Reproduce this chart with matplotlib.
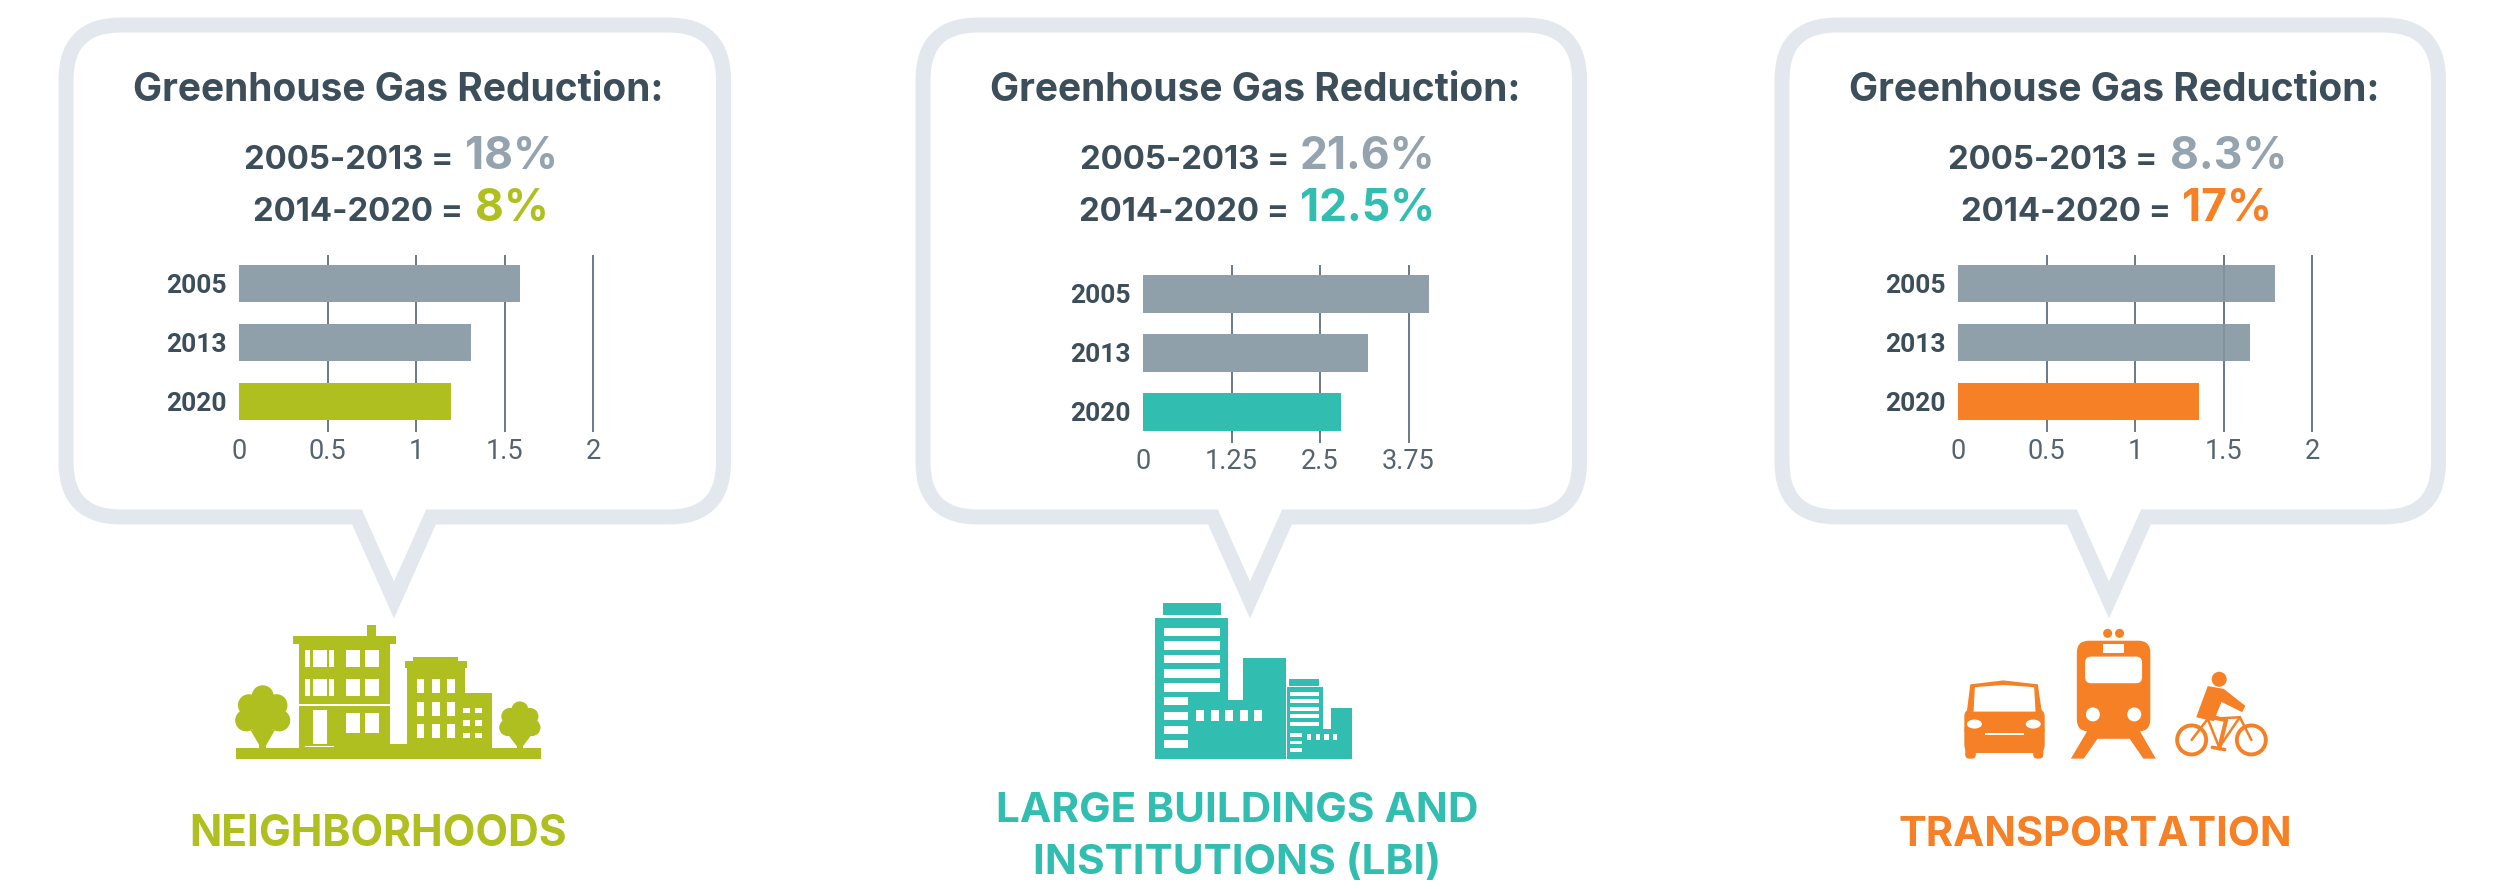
# -*- coding: utf-8 -*-
"""
    Three speech bubbles with greenhouse gas bar charts and a sector icon below each.
"""

import matplotlib
matplotlib.use("Agg")
import matplotlib.pyplot as plt
from matplotlib.path import Path
from matplotlib.patches import PathPatch, Polygon, Rectangle, Ellipse, FancyBboxPatch

#========== DATA ==========#

YEARS = ["2005", "2013", "2020"]

NEIGHBORHOODS_VALUES = [1.59, 1.31, 1.2]
LBI_VALUES = [4.04, 3.18, 2.8]
TRANSPORTATION_VALUES = [1.79, 1.65, 1.36]

SMALL_TICKS = [0, 0.5, 1, 1.5, 2]
SMALL_TICK_LABELS = ["0", "0.5", "1", "1.5", "2"]
LBI_TICKS = [0, 1.25, 2.5, 3.75]
LBI_TICK_LABELS = ["0", "1.25", "2.5", "3.75"]

TITLE = "Greenhouse Gas Reduction:"
PERIOD_1 = "2005-2013 ="
PERIOD_2 = "2014-2020 ="
NEIGHBORHOODS_PCT = ["18%", "8%"]
LBI_PCT = ["21.6%", "12.5%"]
TRANSPORTATION_PCT = ["8.3%", "17%"]

#========== STYLE ==========#

WIDTH, HEIGHT = 2502, 889
GREEN = "#afbf1f"
TEAL = "#31bdb0"
ORANGE = "#f58025"
GREY_BAR = "#90a0aa"
GREY_VALUE = "#94a3ad"
BUBBLE = "#e2e8ed"
DARK = "#3c4e5a"
GRID = "#6a7a85"
HEAD_FONT = ["Inter", "DejaVu Sans"]
NARROW_FONT = ["Roboto", "DejaVu Sans"]

fig = plt.figure(figsize=(WIDTH / 100, HEIGHT / 100), dpi=100, facecolor="white")
canvas = fig.add_axes([0, 0, 1, 1])
canvas.set_xlim(0, WIDTH)
canvas.set_ylim(HEIGHT, 0)
canvas.axis("off")


#======== FUNCTIONS =========#


def draw_bubble(left, right, tip):
    """
        Bubble outline with rounded corners and a tail pointing at the icon
    """
    top, bottom, rad = 25, 517, 55
    verts = [
        (tip - 37, bottom),
        (left + rad, bottom), (left, bottom), (left, bottom - rad),
        (left, top + rad), (left, top), (left + rad, top),
        (right - rad, top), (right, top), (right, top + rad),
        (right, bottom - rad), (right, bottom), (right - rad, bottom),
        (tip + 37, bottom), (tip, 600), (tip - 37, bottom),
    ]
    codes = [Path.MOVETO, Path.LINETO, Path.CURVE3, Path.CURVE3, Path.LINETO,
             Path.CURVE3, Path.CURVE3, Path.LINETO, Path.CURVE3, Path.CURVE3,
             Path.LINETO, Path.CURVE3, Path.CURVE3, Path.LINETO, Path.LINETO,
             Path.CLOSEPOLY]
    canvas.add_patch(PathPatch(Path(verts, codes), facecolor="white", edgecolor=BUBBLE,
                               linewidth=10.8, joinstyle="miter"))


def draw_header(center, label_1, value_1, label_2, value_2, pct, color):
    """
        Title and the two percentage lines. label_x: right end of "=", value_x: start of value
    """
    canvas.text(center, 101, TITLE, family=HEAD_FONT, weight="bold", fontsize=28,
                color=DARK, ha="center", va="baseline")
    canvas.text(label_1, 169, PERIOD_1, family=HEAD_FONT, weight="bold", fontsize=23.7,
                color=DARK, ha="right", va="baseline")
    canvas.text(label_2, 221, PERIOD_2, family=HEAD_FONT, weight="bold", fontsize=23.7,
                color=DARK, ha="right", va="baseline")
    canvas.text(value_1, 169, pct[0], family=HEAD_FONT, weight="bold", fontsize=32,
                color=GREY_VALUE, ha="left", va="baseline")
    canvas.text(value_2, 221, pct[1], family=HEAD_FONT, weight="bold", fontsize=32,
                color=color, ha="left", va="baseline")


def draw_chart(x_0, x_per_unit, top, values, ticks, tick_labels, xmax, color):
    """
        Horizontal bars with vertical gridlines
    """
    bottom = top + 177.5
    left = x_0 / WIDTH
    axes = fig.add_axes([left, 1 - bottom / HEIGHT, xmax * x_per_unit / WIDTH, 177.5 / HEIGHT])
    axes.patch.set_alpha(0)
    axes.barh(YEARS, values, height=0.63, color=[GREY_BAR, GREY_BAR, color], zorder=3)
    axes.set_xlim(0, xmax)
    axes.set_ylim(2.517, -0.49)
    axes.set_xticks(ticks)
    axes.set_xticklabels(tick_labels, family=NARROW_FONT, fontsize=19.5, color="#55646f")
    axes.tick_params(axis="both", length=0)
    axes.tick_params(axis="x", pad=4)
    axes.tick_params(axis="y", pad=9)
    for label in axes.get_yticklabels():
        label.set_family(NARROW_FONT)
        label.set_fontsize(19)
        label.set_fontweight("bold")
        label.set_color(DARK)
    axes.grid(axis="x", color=GRID, linewidth=1.4)
    axes.get_xgridlines()[0].set_visible(False)
    axes.set_axisbelow(True)
    for spine in axes.spines.values():
        spine.set_visible(False)
    return axes


def zoom_mapper(offset):
    """
        Icons were traced on a zoomed crop: converts these coordinates back to pixels
    """
    return lambda x, y: (offset + x * 0.4592, y * 0.567)


def box(mapper, x_0, y_0, x_1, y_1, color):
    (a, b), (c, d) = mapper(x_0, y_0), mapper(x_1, y_1)
    canvas.add_patch(Rectangle((a, b), c - a, d - b, facecolor=color, edgecolor="none"))


def poly(mapper, points, color):
    canvas.add_patch(Polygon([mapper(*p) for p in points], facecolor=color, edgecolor="none"))


def blob(mapper, x, y, rad, color):
    canvas.add_patch(Ellipse(mapper(x, y), 2 * rad, 2 * rad, facecolor=color, edgecolor="none"))


def ring(mapper, x, y, rad, width, color):
    canvas.add_patch(Ellipse(mapper(x, y), 2 * rad, 2 * rad, facecolor="none",
                             edgecolor=color, linewidth=width))


def line(mapper, points, width, color):
    xy = [mapper(*p) for p in points]
    canvas.plot([p[0] for p in xy], [p[1] for p in xy], color=color, linewidth=width,
                solid_capstyle="round")


def rounded(mapper, x_0, y_0, x_1, y_1, rad, color):
    (a, b), (c, d) = mapper(x_0, y_0), mapper(x_1, y_1)
    canvas.add_patch(FancyBboxPatch((a + rad, b + rad), c - a - 2 * rad, d - b - 2 * rad,
                                    boxstyle="round,pad=%d" % rad, facecolor=color,
                                    edgecolor="none"))


def draw_tree(mapper, center, top, base, rad, spread, color):
    """
        Crown made of overlapping circles, trunk with two branches
    """
    for d_x, d_y in [(0, 0), (-1, 0.5), (1, 0.5), (-1.2, 1.35), (1.2, 1.35), (0, 1.0), (0, 1.6),
                     (-0.6, 1.0), (0.6, 1.0)]:
        blob(mapper, center + d_x * spread, top + d_y * spread * 1.05, rad, color)
    low = top + spread * 2.1
    box(mapper, center - 7, low, center + 7, base, color)
    poly(mapper, [(center - 27, low - 4), (center - 13, low - 4), (center + 5, base - 14),
                  (center - 5, base - 4)], color)
    poly(mapper, [(center + 27, low - 4), (center + 13, low - 4), (center - 5, base - 14),
                  (center + 5, base - 4)], color)


def draw_neighborhoods_icon():
    m = zoom_mapper(40)
    box(m, 427, 1320, 1091, 1338, GREEN)
    # left house
    box(m, 563, 1135, 762, 1322, GREEN)
    box(m, 550, 1122, 775, 1135, GREEN)
    box(m, 712, 1103, 732, 1122, GREEN)
    for top, low in [(1147, 1177), (1198, 1228)]:
        for x_0, x_1 in [(578, 588), (595, 625), (630, 640), (666, 697), (708, 738)]:
            box(m, x_0, top, x_1, low, "white")
    box(m, 563, 1242, 762, 1246, "white")
    box(m, 594, 1252, 625, 1312, "white")
    box(m, 578, 1315, 640, 1318, "white")
    box(m, 666, 1258, 697, 1292, "white")
    box(m, 708, 1258, 738, 1292, "white")
    # right block
    box(m, 800, 1175, 925, 1322, GREEN)
    box(m, 795, 1165, 930, 1178, GREEN)
    box(m, 812, 1158, 910, 1165, GREEN)
    box(m, 925, 1222, 985, 1322, GREEN)
    box(m, 762, 1312, 800, 1322, GREEN)
    for x_0 in [820, 853, 886]:
        for top in [1198, 1238, 1277]:
            box(m, x_0, top, x_0 + 17, top + 24, "white")
    for x_0 in [921, 948]:
        for top in [1248, 1270, 1292]:
            box(m, x_0, top, x_0 + 15, top + 10, "white")
    draw_tree(m, 485, 1228, 1322, 11, 30, GREEN)
    draw_tree(m, 1045, 1252, 1322, 8.5, 22, GREEN)


def draw_lbi_icon():
    m = zoom_mapper(900)
    box(m, 573, 1064, 700, 1085, TEAL)
    box(m, 555, 1090, 715, 1338, TEAL)
    for top in [1107, 1131, 1155, 1180, 1205]:
        box(m, 575, top, 697, top + 15, "white")
    for top in [1230, 1255, 1280, 1305]:
        box(m, 575, top, 627, top + 14, "white")
    box(m, 627, 1235, 840, 1338, TEAL)
    box(m, 748, 1160, 840, 1338, TEAL)
    for x_0 in [645, 677, 708, 740, 770]:
        box(m, x_0, 1253, x_0 + 18, 1272, "white")
    box(m, 848, 1198, 913, 1210, TEAL)
    box(m, 842, 1212, 922, 1338, TEAL)
    for top in [1220, 1233, 1247, 1260, 1273]:
        box(m, 850, top, 912, top + 7, "white")
    for top in [1293, 1306, 1320]:
        box(m, 850, top, 876, top + 7, "white")
    box(m, 876, 1285, 985, 1338, TEAL)
    box(m, 938, 1248, 985, 1338, TEAL)
    for x_0 in [886, 905, 924, 942]:
        box(m, x_0, 1295, x_0 + 10, 1305, "white")


def draw_transport_icon():
    m = zoom_mapper(1760)
    # car
    rounded(m, 445, 1250, 620, 1328, 8, ORANGE)
    poly(m, [(458, 1207), (530, 1200), (605, 1207), (620, 1290), (445, 1290)], ORANGE)
    poly(m, [(468, 1212), (530, 1208), (597, 1212), (600, 1255), (465, 1255)], "white")
    for x in [467, 595]:
        a, b = m(x, 1277)
        canvas.add_patch(Ellipse((a, b), 15, 9, facecolor="white", edgecolor="none"))
    box(m, 490, 1292, 575, 1297, "white")
    rounded(m, 447, 1315, 470, 1338, 4, ORANGE)
    rounded(m, 595, 1315, 617, 1338, 4, ORANGE)
    # train
    blob(m, 757, 1117, 4.5, ORANGE)
    blob(m, 783, 1117, 4.5, ORANGE)
    rounded(m, 690, 1130, 850, 1290, 12, ORANGE)
    rounded(m, 708, 1158, 832, 1205, 6, "white")
    box(m, 748, 1136, 793, 1152, "white")
    blob(m, 725, 1260, 7, "white")
    blob(m, 815, 1260, 7, "white")
    poly(m, [(718, 1282), (822, 1282), (862, 1338), (835, 1338), (805, 1303), (735, 1303),
             (705, 1338), (677, 1338)], ORANGE)
    # bike
    ring(m, 940, 1305, 14.5, 2.8, ORANGE)
    ring(m, 1070, 1305, 14.5, 2.8, ORANGE)
    blob(m, 1000, 1198, 7.5, ORANGE)
    poly(m, [(975, 1210), (1010, 1215), (1057, 1245), (1050, 1256), (1005, 1238), (988, 1272),
             (950, 1265)], ORANGE)
    line(m, [(985, 1265), (1015, 1270), (1000, 1320)], 3, ORANGE)
    line(m, [(940, 1305), (975, 1268), (1045, 1265), (1070, 1305)], 1.8, ORANGE)
    line(m, [(975, 1268), (1000, 1318), (1045, 1265)], 1.8, ORANGE)
    line(m, [(985, 1318), (1012, 1322)], 2.5, ORANGE)


#========== MAIN ==========#

draw_bubble(66, 723.5, 394)
draw_bubble(923, 1579.5, 1250)
draw_bubble(1782, 2438.5, 2109)

draw_header(398, 453, 465, 463, 475, NEIGHBORHOODS_PCT, GREEN)
draw_header(1255, 1289, 1300, 1289, 1300, LBI_PCT, TEAL)
draw_header(2114, 2157, 2170, 2171, 2182, TRANSPORTATION_PCT, ORANGE)

draw_chart(239, 177, 254.6, NEIGHBORHOODS_VALUES, SMALL_TICKS, SMALL_TICK_LABELS, 2.02, GREEN)
draw_chart(1143, 70.8, 265, LBI_VALUES, LBI_TICKS, LBI_TICK_LABELS, 4.2, TEAL)
transport_axes = draw_chart(1958, 177, 254.6, TRANSPORTATION_VALUES, SMALL_TICKS,
                            SMALL_TICK_LABELS, 2.02, ORANGE)
# the 1.5 line shows faintly through the grey bars here
transport_axes.axvline(1.5, ymin=0.31, color=GRID, linewidth=1.4, alpha=0.35, zorder=4)

draw_neighborhoods_icon()
draw_lbi_icon()
draw_transport_icon()

canvas.text(378, 846, "NEIGHBORHOODS", family=HEAD_FONT, weight="bold", fontsize=30.6,
            color=GREEN, ha="center", va="baseline")
canvas.text(1237, 822, "LARGE BUILDINGS AND", family=HEAD_FONT, weight="bold", fontsize=30.4,
            color=TEAL, ha="center", va="baseline")
canvas.text(1237, 874, "INSTITUTIONS (LBI)", family=HEAD_FONT, weight="bold", fontsize=30.4,
            color=TEAL, ha="center", va="baseline")
canvas.text(2095, 846, "TRANSPORTATION", family=HEAD_FONT, weight="bold", fontsize=30,
            color=ORANGE, ha="center", va="baseline")

fig.savefig("out.png", dpi=100)
